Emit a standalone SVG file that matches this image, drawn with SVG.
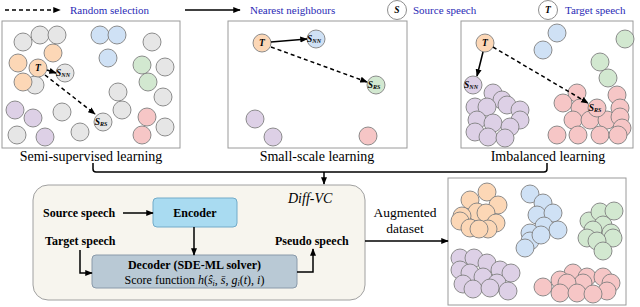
<svg xmlns="http://www.w3.org/2000/svg" width="640" height="307" viewBox="0 0 640 307">
<defs>
<marker id="ah" viewBox="0 0 10 10" refX="9" refY="5" markerWidth="5" markerHeight="5" orient="auto"><path d="M0,1 L10,5 L0,9 Z" fill="#000"/></marker>
<style>
text{font-family:"Liberation Serif","Times New Roman",serif;fill:#000}
.leg{font-size:11px;fill:#2a2ab5}
.pl{font-size:14px}
.b{font-size:12px;font-weight:bold}
.lbl{font-size:9.5px;font-style:italic;font-weight:bold}
.sub{font-size:6px;font-style:italic}
circle{stroke:#808080;stroke-width:0.9}
.g{fill:#e6e6e6}.o{fill:#fcd7b6}.bl{fill:#cfe1f5}.gr{fill:#d2e8d0}.pk{fill:#f6c6c6}.pu{fill:#ddd0e6}.w{fill:#fff}
.panel{fill:#fff;stroke:#9a9a9a;stroke-width:1}
.ln{stroke:#000;stroke-width:1.5;fill:none}
.dash{stroke:#000;stroke-width:1.5;fill:none;stroke-dasharray:4 3}
</style>
</defs>

<g id="legend">
<line class="dash" x1="5" y1="10" x2="60" y2="10" marker-end="url(#ah)"/>
<text class="leg" x="70" y="14">Random selection</text>
<line class="ln" x1="185" y1="10" x2="240" y2="10" marker-end="url(#ah)"/>
<text class="leg" x="250" y="14">Nearest neighbours</text>
<circle class="w" cx="397" cy="10" r="9.5"/>
<text class="lbl" x="397" y="13" text-anchor="middle">S</text>
<text class="leg" x="413" y="14">Source speech</text>
<circle class="w" cx="548" cy="10" r="9.5"/>
<text class="lbl" x="548" y="13" text-anchor="middle">T</text>
<text class="leg" x="565" y="14">Target speech</text>
</g>

<g id="panel-semi">
<rect class="panel" x="2" y="21" width="178" height="127"/>
<circle class="g" cx="23" cy="42" r="9"/><circle class="g" cx="40" cy="35" r="9"/><circle class="g" cx="57" cy="35" r="9"/>
<circle class="g" cx="35" cy="85" r="9"/><circle class="g" cx="152" cy="42" r="9"/><circle class="g" cx="165" cy="67" r="9"/>
<circle class="g" cx="163" cy="97" r="9"/><circle class="g" cx="165" cy="127" r="9"/><circle class="g" cx="118" cy="92" r="9"/>
<circle class="g" cx="122" cy="110" r="9"/><circle class="g" cx="62" cy="112" r="9"/><circle class="g" cx="80" cy="132" r="9"/>
<circle class="g" cx="17" cy="135" r="9"/>
<circle class="o" cx="18" cy="63" r="9"/><circle class="o" cx="53" cy="53" r="9"/><circle class="o" cx="23" cy="82" r="9"/>
<circle class="bl" cx="100" cy="35" r="9"/><circle class="bl" cx="117" cy="35" r="9"/><circle class="bl" cx="108" cy="58" r="9"/>
<circle class="gr" cx="142" cy="65" r="9"/><circle class="gr" cx="148" cy="82" r="9"/>
<circle class="pk" cx="147" cy="117" r="9"/><circle class="pk" cx="142" cy="135" r="9"/>
<circle class="pu" cx="15" cy="110" r="9"/><circle class="pu" cx="33" cy="118" r="9"/><circle class="pu" cx="45" cy="137" r="9"/>
<circle class="o" cx="38" cy="68" r="9"/><text class="lbl" x="38" y="71" text-anchor="middle">T</text>
<circle class="g" cx="65" cy="73" r="9"/><text class="lbl" x="63" y="76" text-anchor="middle">S<tspan class="sub" dy="1">NN</tspan></text>
<circle class="g" cx="103" cy="122" r="9"/><text class="lbl" x="101" y="125" text-anchor="middle">S<tspan class="sub" dy="1">RS</tspan></text>
<text class="pl" x="91" y="161" text-anchor="middle">Semi-supervised learning</text>
</g>

<g id="panel-small">
<rect class="panel" x="228" y="21" width="179" height="127"/>
<circle class="pu" cx="255" cy="119" r="9"/><circle class="pu" cx="273" cy="137" r="9"/><circle class="pk" cx="368" cy="136" r="9"/>
<circle class="o" cx="262" cy="43" r="9"/><text class="lbl" x="262" y="46" text-anchor="middle">T</text>
<circle class="bl" cx="316" cy="39" r="9"/><text class="lbl" x="314" y="42" text-anchor="middle">S<tspan class="sub" dy="1">NN</tspan></text>
<circle class="gr" cx="376" cy="85" r="9"/><text class="lbl" x="374" y="88" text-anchor="middle">S<tspan class="sub" dy="1">RS</tspan></text>
<text class="pl" x="317" y="161" text-anchor="middle">Small-scale learning</text>
</g>

<g id="panel-imbalanced">
<rect class="panel" x="461" y="21" width="172" height="127"/>
<circle class="bl" cx="557" cy="33" r="9"/><circle class="bl" cx="543" cy="50" r="9"/>
<circle class="gr" cx="625" cy="39" r="9"/><circle class="gr" cx="600" cy="62" r="9"/><circle class="gr" cx="608" cy="78" r="9"/>
<circle class="pu" cx="493" cy="93" r="9"/><circle class="pu" cx="502" cy="100" r="9"/><circle class="pu" cx="507" cy="105" r="9"/>
<circle class="pu" cx="475" cy="107" r="9"/><circle class="pu" cx="487" cy="107" r="9"/><circle class="pu" cx="520" cy="110" r="9"/>
<circle class="pu" cx="477" cy="120" r="9"/><circle class="pu" cx="493" cy="123" r="9"/><circle class="pu" cx="520" cy="120" r="9"/>
<circle class="pu" cx="510" cy="127" r="9"/><circle class="pu" cx="475" cy="132" r="9"/><circle class="pu" cx="488" cy="137" r="9"/><circle class="pu" cx="505" cy="138" r="9"/>
<circle class="pk" cx="577" cy="93" r="9"/><circle class="pk" cx="617" cy="95" r="9"/><circle class="pk" cx="563" cy="103" r="9"/>
<circle class="pk" cx="580" cy="108" r="9"/><circle class="pk" cx="620" cy="108" r="9"/><circle class="pk" cx="573" cy="120" r="9"/>
<circle class="pk" cx="590" cy="120" r="9"/><circle class="pk" cx="607" cy="120" r="9"/><circle class="pk" cx="620" cy="117" r="9"/>
<circle class="pk" cx="622" cy="128" r="9"/><circle class="pk" cx="557" cy="135" r="9"/><circle class="pk" cx="578" cy="135" r="9"/>
<circle class="pk" cx="600" cy="135" r="9"/><circle class="pk" cx="618" cy="135" r="9"/>
<circle class="o" cx="485" cy="43" r="9"/><text class="lbl" x="485" y="46" text-anchor="middle">T</text>
<circle class="pu" cx="473" cy="85" r="9"/><text class="lbl" x="471" y="88" text-anchor="middle">S<tspan class="sub" dy="1">NN</tspan></text>
<circle class="pk" cx="597" cy="108" r="9"/><text class="lbl" x="595" y="111" text-anchor="middle">S<tspan class="sub" dy="1">RS</tspan></text>
<text class="pl" x="548" y="161" text-anchor="middle">Imbalanced learning</text>
</g>

<g id="diffvc">
<rect x="33" y="185" width="332" height="115" rx="15" fill="#f7f5ee" stroke="#a0a0a0" stroke-width="1"/>
<text x="288" y="203" style="font-size:14px;font-style:italic">Diff-VC</text>
<text class="b" x="43" y="217">Source speech</text>
<text class="b" x="45" y="245">Target speech</text>
<text class="b" x="275" y="245">Pseudo speech</text>
</g>
<g id="encoder">
<rect x="153" y="198" width="84" height="29" rx="4" fill="#a9dbf1" stroke="#72abc9" stroke-width="1"/>
<text class="b" x="195" y="217" text-anchor="middle">Encoder</text>
</g>
<g id="decoder">
<rect x="92" y="255" width="205" height="33" rx="4" fill="#b9c9d5" stroke="#8a9aaa" stroke-width="1"/>
<text class="b" x="194.5" y="269" text-anchor="middle">Decoder (SDE-ML solver)</text>
<text x="194.5" y="284" text-anchor="middle" style="font-size:12px">Score function <tspan font-style="italic">h</tspan>(<tspan font-style="italic">ŝ</tspan><tspan font-style="italic" font-size="8" dy="2">i</tspan><tspan dy="-2">, </tspan><tspan font-style="italic">s̄</tspan>, <tspan font-style="italic">g</tspan><tspan font-style="italic" font-size="8" dy="2">i</tspan><tspan dy="-2">(</tspan><tspan font-style="italic">t</tspan>), <tspan font-style="italic">i</tspan>)</text>
</g>

<g id="augmented">
<text x="405" y="217" text-anchor="middle" style="font-size:13.5px">Augmented</text>
<text x="405" y="233" text-anchor="middle" style="font-size:13.5px">dataset</text>
</g>

<g id="dataset">
<rect class="panel" x="448" y="178" width="178" height="127"/>
<circle class="o" cx="470" cy="200" r="9"/><circle class="o" cx="487" cy="192" r="9"/><circle class="o" cx="498" cy="205" r="9"/>
<circle class="o" cx="477" cy="212" r="9"/><circle class="o" cx="486" cy="213" r="9"/><circle class="o" cx="462" cy="216" r="9"/>
<circle class="o" cx="460" cy="221" r="9"/><circle class="o" cx="496" cy="223" r="9"/><circle class="o" cx="470" cy="228" r="9"/>
<circle class="o" cx="488" cy="229" r="9"/><circle class="o" cx="479" cy="229" r="9"/>
<circle class="bl" cx="530" cy="194" r="9"/><circle class="bl" cx="543" cy="203" r="9"/><circle class="bl" cx="537" cy="215" r="9"/>
<circle class="bl" cx="553" cy="213" r="9"/><circle class="bl" cx="544" cy="226" r="9"/><circle class="bl" cx="530" cy="233" r="9"/>
<circle class="bl" cx="558" cy="230" r="9"/><circle class="bl" cx="530" cy="241" r="9"/><circle class="bl" cx="541" cy="235" r="9"/>
<circle class="bl" cx="525" cy="248" r="9"/>
<circle class="gr" cx="589" cy="221" r="9"/><circle class="gr" cx="600" cy="212" r="9"/><circle class="gr" cx="614" cy="211" r="9"/>
<circle class="gr" cx="603" cy="225" r="9"/><circle class="gr" cx="593" cy="230" r="9"/><circle class="gr" cx="611" cy="233" r="9"/>
<circle class="gr" cx="613" cy="238" r="9"/><circle class="gr" cx="587" cy="238" r="9"/><circle class="gr" cx="597" cy="241" r="9"/>
<circle class="gr" cx="603" cy="251" r="9"/>
<circle class="pu" cx="460" cy="258" r="9"/><circle class="pu" cx="474" cy="258" r="9"/><circle class="pu" cx="487" cy="263" r="9"/>
<circle class="pu" cx="460" cy="270" r="9"/><circle class="pu" cx="500" cy="270" r="9"/><circle class="pu" cx="511" cy="273" r="9"/>
<circle class="pu" cx="470" cy="273" r="9"/><circle class="pu" cx="483" cy="277" r="9"/><circle class="pu" cx="463" cy="284" r="9"/>
<circle class="pu" cx="497" cy="283" r="9"/><circle class="pu" cx="473" cy="289" r="9"/><circle class="pu" cx="490" cy="288" r="9"/>
<circle class="pu" cx="508" cy="291" r="9"/>
<circle class="pk" cx="573" cy="273" r="9"/><circle class="pk" cx="587" cy="277" r="9"/><circle class="pk" cx="603" cy="277" r="9"/>
<circle class="pk" cx="560" cy="280" r="9"/><circle class="pk" cx="611" cy="283" r="9"/><circle class="pk" cx="583" cy="283" r="9"/>
<circle class="pk" cx="567" cy="283" r="9"/><circle class="pk" cx="543" cy="287" r="9"/><circle class="pk" cx="607" cy="291" r="9"/>
<circle class="pk" cx="560" cy="293" r="9"/><circle class="pk" cx="577" cy="293" r="9"/><circle class="pk" cx="593" cy="294" r="9"/>
</g>

<g id="connectors">
<line class="dash" x1="47" y1="70" x2="56" y2="73" marker-end="url(#ah)"/>
<line class="dash" x1="45" y1="75" x2="95" y2="114" marker-end="url(#ah)"/>
<line class="ln" x1="271" y1="42" x2="307" y2="39" marker-end="url(#ah)"/>
<line class="dash" x1="271" y1="47" x2="367" y2="82" marker-end="url(#ah)"/>
<line class="ln" x1="483" y1="52" x2="477" y2="76" marker-end="url(#ah)"/>
<line class="dash" x1="493" y1="47" x2="588" y2="103" marker-end="url(#ah)"/>
<path class="ln" d="M93,163 V169 Q93,172 96,172 H544 Q547,172 547,169 V163"/>
<line class="ln" x1="324" y1="172" x2="324" y2="184" marker-end="url(#ah)"/>
<line class="ln" x1="123" y1="213" x2="153" y2="213" marker-end="url(#ah)"/>
<line class="ln" x1="194" y1="227" x2="194" y2="255" marker-end="url(#ah)"/>
<path class="ln" d="M80,250 V273 H92" marker-end="url(#ah)"/>
<path class="ln" d="M297,272 H313 V249" marker-end="url(#ah)"/>
<line class="ln" x1="365" y1="241" x2="448" y2="241" marker-end="url(#ah)"/>
</g>
</svg>
